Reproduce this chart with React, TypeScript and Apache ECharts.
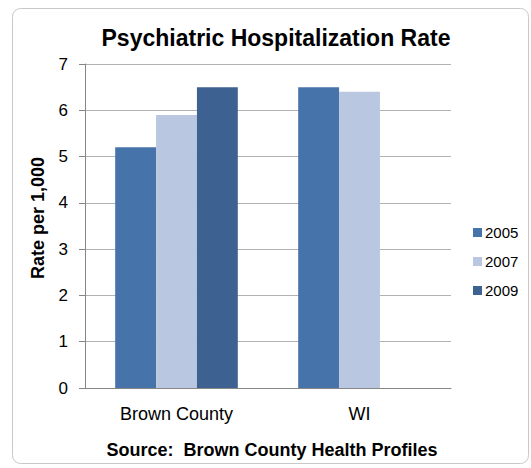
import React, { useEffect, useRef } from "react";
import * as echarts from "echarts";

const categories = ["Brown County", "WI"];
const seriesNames = ["2005", "2007", "2009"];
const values2005 = [5.2, 6.5];
const values2007 = [5.9, 6.4];
const values2009: (number | null)[] = [6.5, null];
const colors = ["#4673AA", "#B9C7E0", "#3D6190"];
const FONT = "'Liberation Sans', Arial, sans-serif";

export default function App() {
  const ref = useRef<HTMLDivElement>(null);
  useEffect(() => {
    if (!ref.current) return;
    const chart = echarts.init(ref.current, undefined, { renderer: "svg" });
    const data = [values2005, values2007, values2009];
    chart.setOption({
      animation: false,
      backgroundColor: "#ffffff",
      textStyle: { fontFamily: FONT },
      title: [
        {
          text: "Psychiatric Hospitalization Rate",
          left: 271,
          textAlign: "center",
          top: 21,
          textStyle: { fontFamily: FONT, fontSize: 23, fontWeight: "bold", color: "#000" },
        },
        {
          text: "Source:  Brown County Health Profiles",
          left: 267,
          textAlign: "center",
          top: 436,
          textStyle: { fontFamily: FONT, fontSize: 18, fontWeight: "bold", color: "#000" },
        },
      ],
      graphic: [
        {
          type: "rect",
          shape: { x: 12.5, y: 8.5, width: 516, height: 455, r: 8 },
          style: { fill: "none", stroke: "#c8c8c8", lineWidth: 1 },
          silent: true,
          z: -1,
        },
        {
          type: "text",
          x: 38,
          y: 218,
          rotation: Math.PI / 2,
          style: {
            text: "Rate per 1,000",
            fontFamily: FONT,
            fontSize: 18,
            fontWeight: "bold",
            fill: "#000",
            align: "center",
            verticalAlign: "middle",
          },
        },
      ],
      legend: {
        orient: "vertical",
        left: 468,
        top: 220,
        itemWidth: 9,
        itemHeight: 9,
        itemGap: 14,
        icon: "rect",
        textStyle: { fontFamily: FONT, fontSize: 15, color: "#000", padding: [0, 0, 0, -2] },
        data: seriesNames,
      },
      grid: { left: 85, right: 80, top: 64, bottom: 80, containLabel: false },
      xAxis: {
        type: "category",
        data: categories,
        axisLine: { show: true, lineStyle: { color: "#868686" } },
        axisTick: { show: false },
        axisLabel: { fontFamily: FONT, fontSize: 18, color: "#000", margin: 17 },
      },
      yAxis: {
        type: "value",
        min: 0,
        max: 7,
        interval: 1,
        axisLine: { show: true, lineStyle: { color: "#868686" } },
        axisTick: { show: true, length: 6, lineStyle: { color: "#868686" } },
        axisLabel: { fontFamily: FONT, fontSize: 17, color: "#000", margin: 17 },
        splitLine: { lineStyle: { color: "#b3b3b3" } },
      },
      series: seriesNames.map((name, i) => ({
        name,
        type: "bar",
        data: data[i],
        barGap: "0%",
        barCategoryGap: "33%",
        itemStyle: { color: colors[i] },
      })),
    });
    return () => chart.dispose();
  }, []);
  return (
    <div
      ref={ref}
      style={{ position: "fixed", left: 0, top: 0, width: 531, height: 468 }}
    />
  );
}
